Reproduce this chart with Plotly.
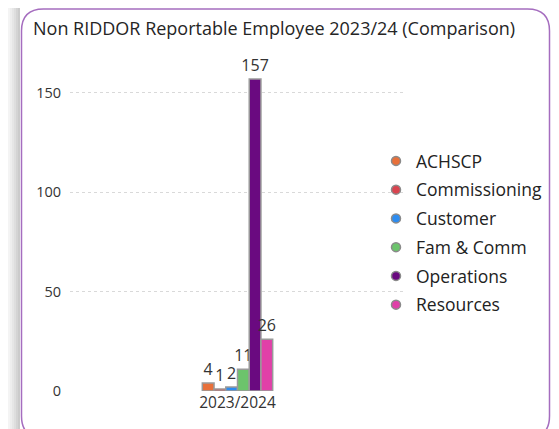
import plotly.graph_objects as go

categories = ["2023/2024"]
series_names = ["ACHSCP", "Commissioning", "Customer", "Fam & Comm", "Operations", "Resources"]
series_values = [4, 1, 2, 11, 157, 26]
series_colors = ["#E8703A", "#D9444F", "#2D8CF0", "#6CC46C", "#6A0A80", "#E040A8"]
y_ticks = [0, 50, 100, 150]
title_text = "Non RIDDOR Reportable Employee 2023/24 (Comparison)"

OFF = 8                      # page body margin offset
W, H = 559 - OFF, 429 - OFF  # figure size in the page
FONT = "Open Sans, Noto Sans, sans-serif"

# plot area in screen pixels
PL, PR, PT, PB = 70, 405, 49, 391
l, r, t, b = PL - OFF, (559 - PR), PT - OFF, (429 - PB)
pw = PR - PL
ph = PB - PT

def px_x(x):
    return (x - PL) / pw

def px_y(y):
    return (PB - y) / ph

fig = go.Figure()
for name, val, col in zip(series_names, series_values, series_colors):
    fig.add_trace(go.Bar(
        x=categories, y=[val], name=name,
        marker=dict(color=col, line=dict(color="#9a9a9a", width=1.5)),
        text=[str(val)], textposition="outside", cliponaxis=False, constraintext="none",
        textfont=dict(size=16, color="#333333", family=FONT), showlegend=False,
    ))
for i, (name, col) in enumerate(zip(series_names, series_colors)):
    fig.add_trace(go.Scatter(
        x=[None], y=[None], mode="markers", name=name, legendgroup=f"g{i}",
        marker=dict(symbol="circle", size=9, color=col, line=dict(color="#8a8a8a", width=1.5)),
    ))

shapes = []
# left shadow gradient (decoration)
shadow = ["#f4f4f4", "#eeeeee", "#e6e6e6", "#dedede", "#d4d4d4", "#cbcbcb"]
for i, c in enumerate(shadow):
    xa = OFF + i * 2
    shapes.append(dict(type="rect", xref="paper", yref="paper", layer="below",
                       x0=px_x(xa), x1=px_x(xa + 2), y0=px_y(429), y1=px_y(OFF),
                       line=dict(width=0), fillcolor=c))

# card outline
x0c, x1c, y0c, y1c, rad = 21.5, 549.5, 9.0, 438, 22
def P(x, y):
    return f"{px_x(x)},{px_y(y)}"
path = (f"M {P(x0c+rad, y0c)} L {P(x1c-rad, y0c)} Q {P(x1c, y0c)} {P(x1c, y0c+rad)} "
        f"L {P(x1c, y1c-rad)} Q {P(x1c, y1c)} {P(x1c-rad, y1c)} L {P(x0c+rad, y1c)} "
        f"Q {P(x0c, y1c)} {P(x0c, y1c-rad)} L {P(x0c, y0c+rad)} Q {P(x0c, y0c)} {P(x0c+rad, y0c)} Z")
shapes.append(dict(type="path", xref="paper", yref="paper", path=path, layer="below",
                   fillcolor="white", line=dict(color="#A56DBF", width=1.5)))

fig.update_layout(
    width=W, height=H,
    margin=dict(l=l, r=r, t=t, b=b, autoexpand=False),
    paper_bgcolor="white", plot_bgcolor="rgba(0,0,0,0)",
    barmode="group", bargap=0.79, bargroupgap=0,
    font=dict(family=FONT, color="#333333"),
    shapes=shapes,
    title=dict(text=title_text, x=(33 - OFF) / W, xanchor="left", y=1 - (29 - OFF) / H, yanchor="middle",
               font=dict(size=18, color="#252525", family=FONT)),
    xaxis=dict(showgrid=False, zeroline=False, showline=False, ticks="",
               tickfont=dict(size=15.5, color="#333333"), range=[-0.5, 0.5]),
    yaxis=dict(range=[0, (PB - PT) / 1.987], tickvals=y_ticks, showgrid=True, gridcolor="#d9d9d9",
               griddash="dot", gridwidth=1, zeroline=False, showline=False, ticks="",
               ticklabelstandoff=8, tickfont=dict(size=14.5, color="#333333")),
    legend=dict(x=px_x(376), xanchor="left", y=px_y(143), yanchor="top", traceorder="grouped",
                tracegroupgap=3, font=dict(size=17.5, color="#222222"), itemwidth=30,
                bgcolor="rgba(0,0,0,0)"),
)

fig.write_html("out.html")
